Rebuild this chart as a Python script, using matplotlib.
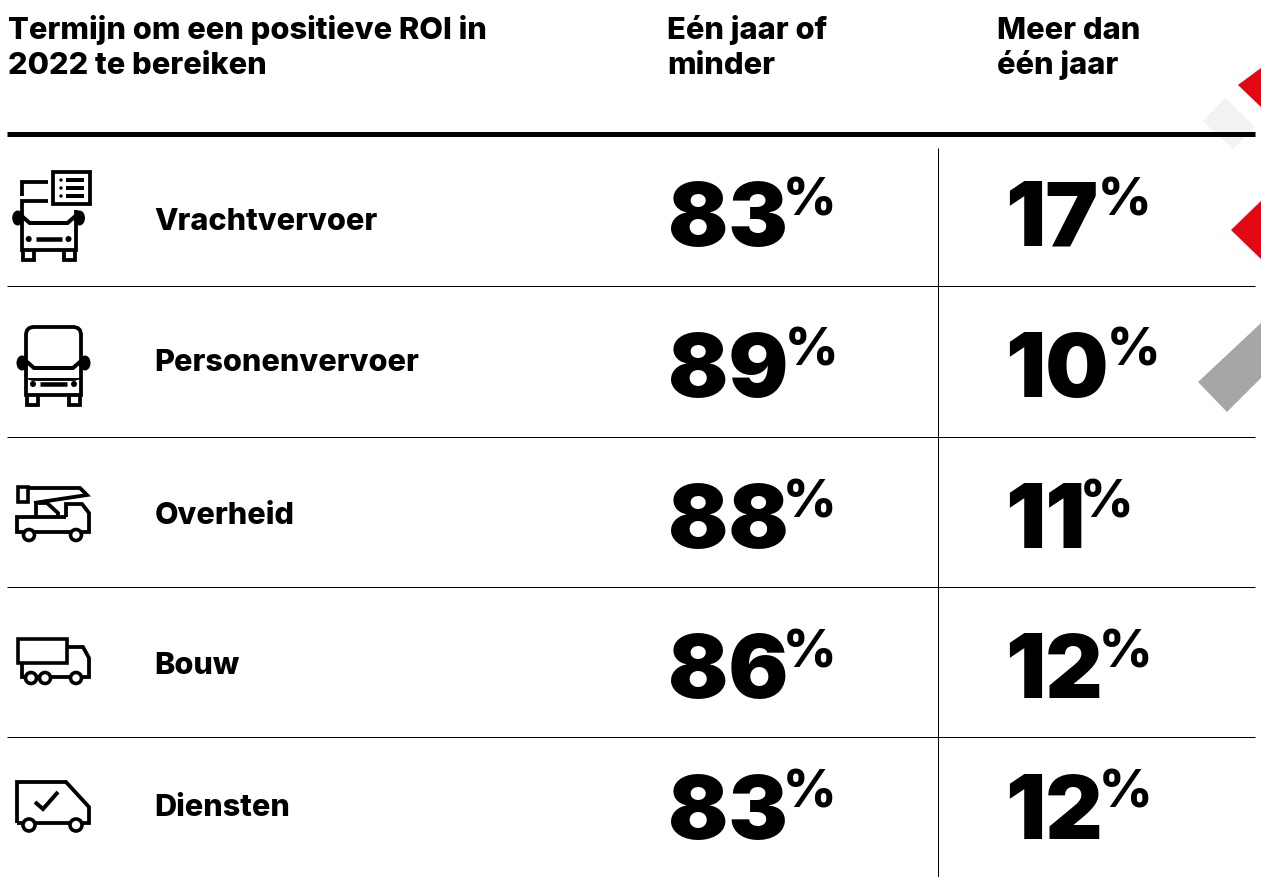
import matplotlib
matplotlib.use('Agg')
import matplotlib.pyplot as plt
from matplotlib.patches import Circle, Ellipse, Polygon, Rectangle, FancyBboxPatch

headers = [['Termijn om een positieve ROI in', '2022 te bereiken'], ['Eén jaar of', 'minder'], ['Meer dan', 'één jaar']]
categories = ['Vrachtvervoer', 'Personenvervoer', 'Overheid', 'Bouw', 'Diensten']
one_year_or_less = [83, 89, 88, 86, 83]
more_than_one_year = [17, 10, 11, 12, 12]

label_base = [230, 371, 524, 674, 816]
number_base = [246, 397, 548, 698, 839]
row_lines = [286, 437, 587, 737]
pct_x_left = [783, 785, 783, 783, 783]
pct_x_right = [1098, 1107, 1080, 1099, 1099]

FONT = ['Inter', 'Liberation Sans', 'DejaVu Sans']
px = 0.72  # points per pixel at dpi 100

fig = plt.figure(figsize=(12.61, 8.77), dpi=100)
ax = fig.add_axes([0, 0, 1, 1])
ax.set_xlim(0, 1261)
ax.set_ylim(877, 0)
ax.axis('off')


def stroke(points, lw=3.8, **kw):
    xs, ys = zip(*points)
    ax.plot(xs, ys, color='black', lw=lw * px, solid_joinstyle='miter', solid_capstyle='butt', **kw)


def wheel(x, y, r=5.5):
    ax.add_patch(Circle((x, y), r, fc='white', ec='black', lw=3.6 * px, zorder=4))


def dot(x, y, r=3):
    ax.add_patch(Circle((x, y), r, fc='black', ec='none'))


def bus_front(left, right, top_y, bottom_y, glass_y):
    stroke([(left, glass_y - 2), (left + 8, glass_y + 5), (right - 8, glass_y + 5), (right, glass_y - 2)], lw=4)
    ax.add_patch(Ellipse((left - 4, glass_y), 11, 15, fc='black', ec='none'))
    ax.add_patch(Ellipse((right + 4, glass_y), 11, 15, fc='black', ec='none'))
    stroke([(left, glass_y), (left, bottom_y), (right, bottom_y), (right, top_y)])
    stroke([(left + 1, bottom_y), (left + 1, bottom_y + 10), (left + 12, bottom_y + 10), (left + 12, bottom_y)])
    stroke([(right - 12, bottom_y), (right - 12, bottom_y + 10), (right - 1, bottom_y + 10), (right - 1, bottom_y)])
    dot(left + 7, bottom_y - 11)
    dot(right - 7, bottom_y - 11)
    stroke([(left + 14, bottom_y - 11), (right - 14, bottom_y - 11)], lw=4.5)


def draw_icons():
    # truck with list
    bus_front(21.7, 75.5, 210, 250, 218)
    stroke([(21.7, 196), (21.7, 181.5), (48, 181.5)])
    stroke([(48, 201), (21.7, 201), (21.7, 218)])
    ax.add_patch(Rectangle((53, 172), 37, 32, fc='white', ec='black', lw=3.8 * px))
    for yy in [180, 188, 196]:
        dot(61, yy, 1.7)
        stroke([(66, yy), (84, yy)], lw=4)
    # bus
    ax.add_patch(FancyBboxPatch((32, 333), 43, 40, boxstyle='round,pad=6,rounding_size=8',
                                fc='white', ec='black', lw=3.8 * px))
    ax.add_patch(Rectangle((20, 366), 70, 12, fc='white', ec='none'))
    bus_front(26, 81, 362, 395, 363)
    # crane
    ax.add_patch(Rectangle((18, 487), 10, 15, fc='white', ec='black', lw=3.6 * px))
    stroke([(28, 488), (80, 488), (87, 495), (34, 503)])
    stroke([(36, 516), (36, 503), (47, 503), (58, 513), (58, 517)])
    stroke([(66, 517), (66, 504), (82, 504), (89, 513), (89, 532), (17, 532), (17, 517), (66, 517)])
    wheel(29, 535)
    wheel(76, 535)
    # box truck
    ax.add_patch(Rectangle((18, 639), 49, 24, fc='white', ec='black', lw=3.6 * px))
    stroke([(67, 647), (83, 647), (89, 658), (89, 677), (22, 677), (22, 663)])
    for xx in [31, 45, 76]:
        wheel(xx, 678)
    # van with check
    stroke([(17, 823), (17, 782), (66, 782), (89, 807), (89, 823), (17, 823)])
    stroke([(35, 802), (43, 809), (58, 792)], lw=4)
    wheel(29, 825, 6)
    wheel(76, 825, 6)


# corner decoration
ax.add_patch(Polygon([(1238, 85), (1261, 68), (1261, 107)], fc='#e30613', ec='none'))
ax.add_patch(Polygon([(1225, 98), (1203, 121), (1233, 149), (1255, 127)], fc='#f2f2f2', ec='none'))
ax.add_patch(Polygon([(1231, 230), (1261, 201), (1261, 259)], fc='#e30613', ec='none'))
ax.add_patch(Polygon([(1198, 382), (1227, 412), (1261, 378), (1261, 323)], fc='#a6a6a6', ec='none'))

# rules
ax.plot([7, 1255], [134, 134], color='black', lw=5 * px, solid_capstyle='butt')
for y in row_lines:
    ax.plot([7, 1255], [y, y], color='black', lw=1 * px, solid_capstyle='butt')
ax.plot([938, 938], [148, 877], color='black', lw=1 * px, solid_capstyle='butt')

# header
for lines, x in zip(headers, [8, 667, 997]):
    for line, y in zip(lines, [39, 74]):
        ax.text(x, y, line, family=FONT, weight=800, fontsize=30.8 * px, va='baseline', ha='left')


def number(x, y, value, pct_x):
    ax.text(x, y, str(value), family=FONT, weight='black', fontsize=89 * px, va='baseline', ha='left')
    ax.text(pct_x, y - 31, '%', family=FONT, weight=800, fontsize=52 * px, va='baseline', ha='left')


draw_icons()
for i, cat in enumerate(categories):
    ax.text(154.5, label_base[i], cat, family=FONT, weight=800, fontsize=30.6 * px, va='baseline', ha='left')
    number(668, number_base[i], one_year_or_less[i], pct_x_left[i])
    number(1005, number_base[i], more_than_one_year[i], pct_x_right[i])

fig.savefig('out.png', dpi=100)
